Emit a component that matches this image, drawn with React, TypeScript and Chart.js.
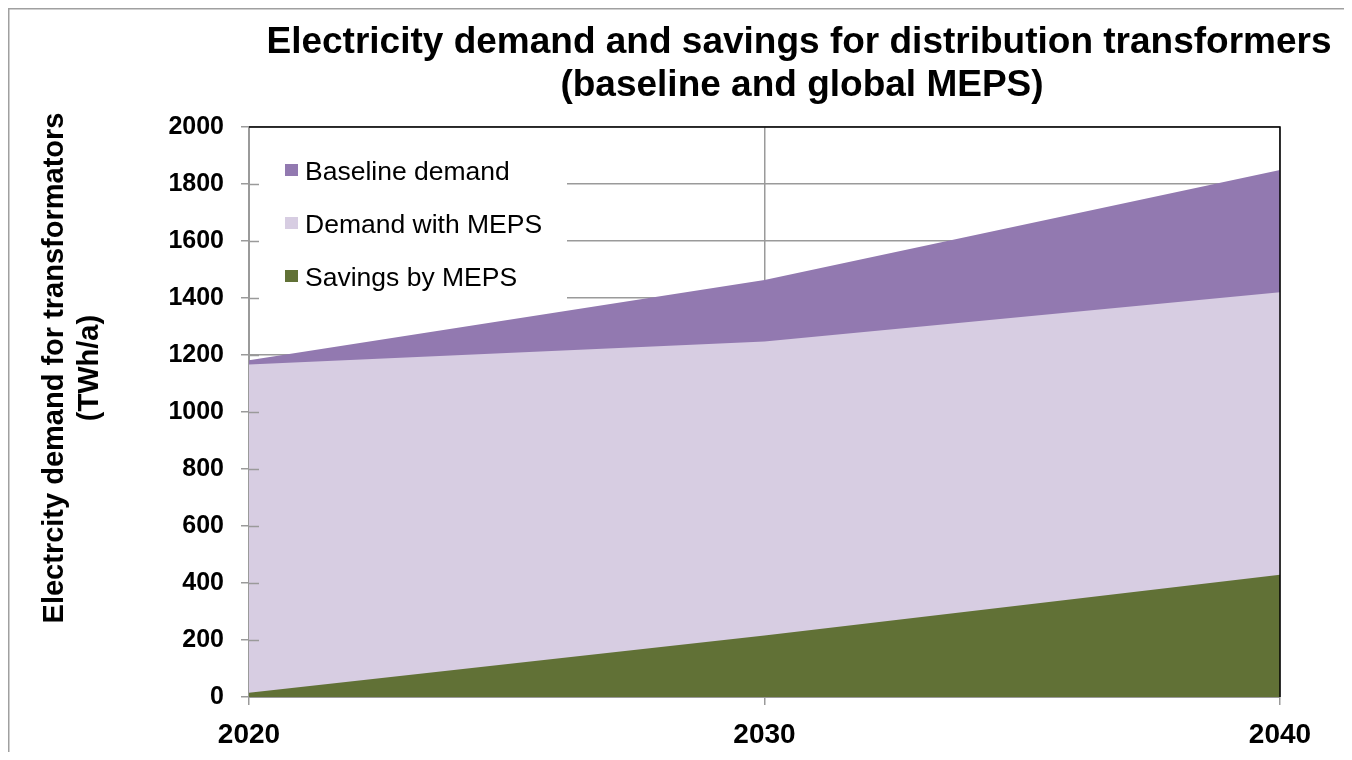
import { useEffect, useRef } from "react";
import { Chart, registerables } from "chart.js";

Chart.register(...registerables);

// Years on the horizontal axis
const years = ["2020", "2030", "2040"];

// Electricity demand series (TWh/a)
const baselineDemand = [1182, 1463, 1849];
const demandWithMeps = [1167, 1247, 1420];
const savingsByMeps = [15, 216, 429];

const seriesNames = ["Baseline demand", "Demand with MEPS", "Savings by MEPS"];
const seriesColors = ["#9279B0", "#D7CDE2", "#617136"];

const titleLines = [
  "Electricity demand and savings for distribution transformers",
  "(baseline and global MEPS)",
];
const yTitleLines = ["Electrcity demand for transformators", "(TWh/a)"];

const FONT = "'Liberation Sans', Arial, Helvetica, sans-serif";
const GRID = "#9A9A9A";

const decorations = {
  id: "decorations",
  beforeDatasetsDraw(chart: any) {
    const { ctx, chartArea: a } = chart;
    // white legend panel sitting over the gridlines
    ctx.save();
    ctx.fillStyle = "#ffffff";
    ctx.fillRect(a.left + 1, a.top + 1, 317, 183);
    ctx.restore();
  },
  afterDraw(chart: any) {
    const { ctx, chartArea: a } = chart;
    const y = chart.scales.y;
    ctx.save();

    // inner halves of the y tick marks
    ctx.strokeStyle = GRID;
    ctx.lineWidth = 1.5;
    y.ticks.forEach((t: any) => {
      if (t.value <= 0 || t.value >= 2000) return;
      const py = Math.round(y.getPixelForValue(t.value)) + 0.5;
      ctx.beginPath();
      ctx.moveTo(a.left, py);
      ctx.lineTo(a.left + 10, py);
      ctx.stroke();
    });

    // top and right plot border
    ctx.strokeStyle = "#000000";
    ctx.lineWidth = 1.5;
    ctx.beginPath();
    ctx.moveTo(a.left, a.top);
    ctx.lineTo(a.right, a.top);
    ctx.lineTo(a.right, a.bottom);
    ctx.stroke();

    // outer frame (top and left edges)
    ctx.strokeStyle = "#A0A0A0";
    ctx.lineWidth = 1.5;
    ctx.beginPath();
    ctx.moveTo(0.75, chart.height);
    ctx.lineTo(0.75, 0.75);
    ctx.lineTo(chart.width, 0.75);
    ctx.stroke();

    // chart title
    ctx.fillStyle = "#000000";
    ctx.font = `bold 37px ${FONT}`;
    ctx.textAlign = "center";
    ctx.textBaseline = "alphabetic";
    ctx.fillText(titleLines[0], 791, 45);
    ctx.fillText(titleLines[1], 794, 88);

    // y axis title
    ctx.font = `bold 29px ${FONT}`;
    ctx.textBaseline = "middle";
    [47, 82].forEach((x, i) => {
      ctx.save();
      ctx.translate(x, 360);
      ctx.rotate(-Math.PI / 2);
      ctx.fillText(yTitleLines[i], 0, 0);
      ctx.restore();
    });

    // legend
    ctx.font = `26.5px ${FONT}`;
    ctx.textAlign = "left";
    ctx.textBaseline = "alphabetic";
    seriesNames.forEach((name, i) => {
      const base = 172 + i * 53;
      ctx.fillStyle = seriesColors[i];
      ctx.fillRect(277, base - 16, 13, 12);
      ctx.fillStyle = "#000000";
      ctx.fillText(name, 297, base);
    });

    ctx.restore();
  },
};

export default function App() {
  const ref = useRef<HTMLCanvasElement | null>(null);

  useEffect(() => {
    if (!ref.current) return;
    const series = [baselineDemand, demandWithMeps, savingsByMeps];
    const chart = new Chart(ref.current, {
      type: "line",
      data: {
        labels: years,
        datasets: series.map((values, i) => ({
          label: seriesNames[i],
          data: values,
          backgroundColor: seriesColors[i],
          borderColor: seriesColors[i],
          borderWidth: 0,
          pointRadius: 0,
          tension: 0,
          fill: "origin",
          order: 3 - i,
        })),
      },
      options: {
        responsive: false,
        animation: false,
        events: [],
        layout: { padding: { top: 119, right: 72, left: 0, bottom: 0 } },
        plugins: {
          legend: { display: false },
          title: { display: false },
          tooltip: { enabled: false },
        },
        scales: {
          x: {
            type: "category",
            offset: false,
            grid: { color: GRID, lineWidth: 1.5, tickLength: 8, tickColor: GRID },
            border: { color: GRID, width: 2 },
            ticks: {
              color: "#000000",
              font: { family: FONT, size: 28, weight: "bold" },
              padding: 13,
              maxRotation: 0,
              autoSkip: false,
            },
            afterFit: (s: any) => {
              s.height = 55;
            },
          },
          y: {
            min: 0,
            max: 2000,
            grid: { color: GRID, lineWidth: 1.5, tickLength: 8, tickColor: GRID },
            border: { color: GRID, width: 2 },
            ticks: {
              stepSize: 200,
              color: "#000000",
              font: { family: FONT, size: 25, weight: "bold" },
              padding: 17,
              callback: (v: any) => String(v),
            },
            afterFit: (s: any) => {
              s.width = 241;
            },
          },
        },
      },
      plugins: [decorations],
    } as any);
    return () => chart.destroy();
  }, []);

  return (
    <div style={{ width: 1344, height: 744 }}>
      <canvas ref={ref} width={1344} height={744} style={{ display: "block" }} />
    </div>
  );
}
